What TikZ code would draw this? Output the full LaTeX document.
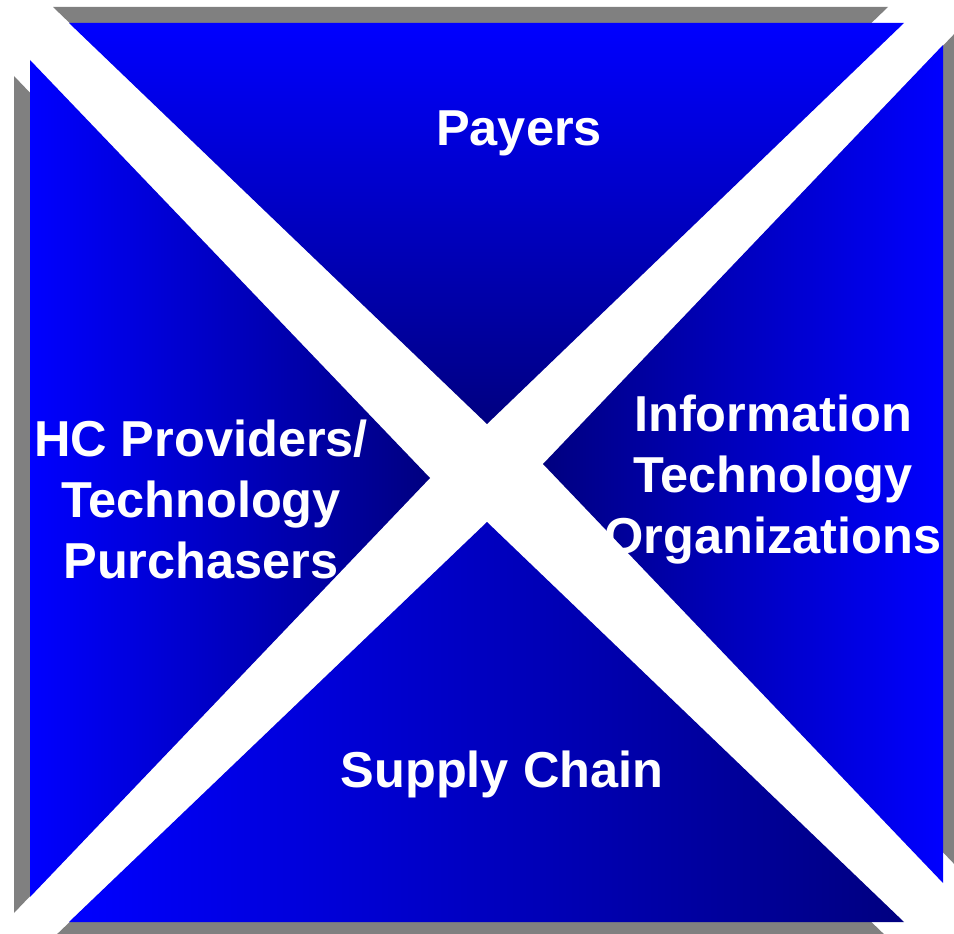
\documentclass[tikz,border=0pt]{standalone}
\usepackage{fontspec}
\setmainfont{Liberation Sans}
\definecolor{brightblue}{RGB}{0,0,255}
\definecolor{navyblue}{RGB}{0,0,128}
\definecolor{shadowgray}{RGB}{128,128,128}
\begin{document}
\begin{tikzpicture}[x=1pt,y=-1pt,
  shadowtri/.style={fill=shadowgray,draw=none},
  label/.style={text=white,font=\bfseries\fontsize{50.5}{61}\selectfont,align=center,inner sep=0pt}]
\useasboundingbox (0,0) rectangle (954,934);
\fill[white] (0,0) rectangle (954,934);
% shadows
\fill[shadowtri] (53,7) -- (888,7) -- (471,408) -- cycle;
\fill[shadowtri] (14,76) -- (14,913) -- (414,494) -- cycle;
\fill[shadowtri] (53,938) -- (888,938) -- (471,538) -- cycle;
\fill[shadowtri] (958,30) -- (958,868) -- (558,449) -- cycle;
% triangles
\shade[top color=brightblue,bottom color=navyblue] (69,23) -- (904,23) -- (487,424) -- cycle;
\shade[left color=brightblue,right color=navyblue] (30,60) -- (30,897) -- (430,478) -- cycle;
\shade[left color=brightblue,right color=navyblue] (69,922) -- (904,922) -- (487,522) -- cycle;
\shade[left color=navyblue,right color=brightblue] (943,45) -- (943,883) -- (543,464) -- cycle;
% labels
\node[label,anchor=base] (payers) at (519,146) {Payers};
\node[label,anchor=base] (hc) at (201,578) {HC Providers/\\Technology\\Purchasers};
\node[label,anchor=base] (it) at (773,553) {Information\\Technology\\Organizations};
\node[label,anchor=base] (supply) at (502,787) {Supply Chain};
\end{tikzpicture}
\end{document}
